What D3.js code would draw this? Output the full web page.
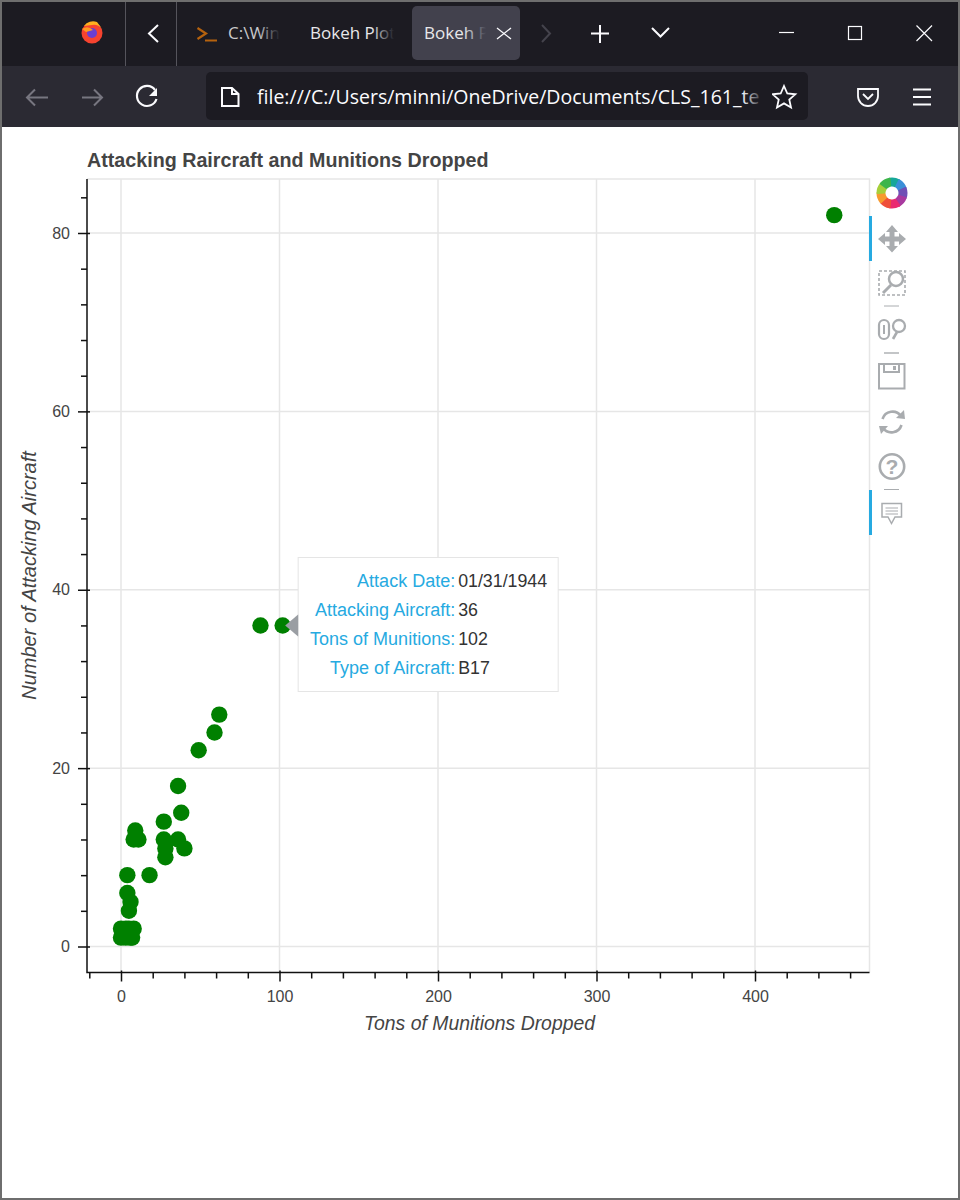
<!DOCTYPE html>
<html>
<head>
<meta charset="utf-8">
<style>
  html, body { margin: 0; padding: 0; background: #fff; }
  svg { display: block; }
  text { font-family: "Liberation Sans", Arial, sans-serif; }
  .ui { font-family: "Open Sans", "Noto Sans", sans-serif; }
</style>
</head>
<body>
<div class="canvas"></div>
<script src="https://cdn.jsdelivr.net/npm/d3@7"></script>
<script>
// tons dropped and attacking aircraft
const tons = [450, 88, 102, 62, 59, 49, 36, 38, 27, 9, 8, 11, 27, 36, 40, 28, 28, 18, 4, 4, 6, 5, 0, 0, 3, 3, 6, 5, 7, 8];
const aircraft = [82, 36, 36, 26, 24, 22, 18, 15, 14, 13, 12, 12, 12, 12, 11, 11, 10, 8, 8, 6, 5, 4, 1, 2, 1, 2, 1, 2, 1, 2];

const xTicks = [0, 100, 200, 300, 400];
const yTicks = [0, 20, 40, 60, 80];
const xMinor = d3.range(-20, 461, 20).filter(d => d % 100 !== 0);
const yMinor = d3.range(0, 85, 4).filter(d => d % 20 !== 0);

const tipLabels = ['Attack Date:', 'Attacking Aircraft:', 'Tons of Munitions:', 'Type of Aircraft:'];
const tipValues = ['01/31/1944', '36', '102', 'B17'];

const svg = d3.select('.canvas')
    .append('svg')
    .attr('width', 960)
    .attr('height', 1200);

const plot = {left: 87, right: 869.5, top: 179, bottom: 972.5};

// scales, zero and the top tick pinned to where they sit in the picture
const x = d3.scaleLinear().domain([0, 400]).range([121, 755]);
const y = d3.scaleLinear().domain([0, 80]).range([946.5, 233]);

// ---- browser window ----
const chrome = svg.append('g');
chrome.append('rect').attr('width', 960).attr('height', 66).attr('fill', '#1c1b22');
chrome.append('rect').attr('y', 66).attr('width', 960).attr('height', 61).attr('fill', '#2b2a33');
chrome.append('rect').attr('x', 206).attr('y', 72).attr('width', 602).attr('height', 48).attr('rx', 5).attr('fill', '#1c1b22');
chrome.append('rect').attr('x', 412).attr('y', 6).attr('width', 108).attr('height', 54).attr('rx', 5).attr('fill', '#42414d');

const line = (d, stroke, w) => chrome.append('path').attr('d', d).attr('fill', 'none')
    .attr('stroke', stroke).attr('stroke-width', w || 1.8);

// separators
line('M125.5 2V66M176.5 2V66', '#55545c', 1);
// firefox logo
chrome.append('circle').attr('cx', 92).attr('cy', 33).attr('r', 10.5).attr('fill', '#f6432f');
chrome.append('path').attr('d', 'M84 26A11 11 0 0 1 97 22L103 30A10 10 0 0 0 92 25Z').attr('fill', '#ffb01f');
chrome.append('circle').attr('cx', 92).attr('cy', 33).attr('r', 5).attr('fill', '#6a3fd0');
chrome.append('path').attr('d', 'M82 29Q88 25 93 30L86 32Z').attr('fill', '#ff9a1f');
// tab arrows
line('M158 25L149 33.5L158 42', '#fbfbfe', 2);
line('M542 25L550 33.5L542 42', '#44434c', 2);
// terminal tab icon
line('M197.5 28L206 33.5L197.5 39', '#b5620e', 2.2);
line('M205 40.5H217', '#b5620e', 2);
// new tab, list, window buttons
line('M600 25V43M591 33.5H609', '#fbfbfe', 2);
line('M652 28L660.5 36.5L669 28', '#fbfbfe', 2);
line('M779 32.5H794', '#fbfbfe', 1.2);
chrome.append('rect').attr('x', 848.5).attr('y', 26.5).attr('width', 13).attr('height', 13).attr('fill', 'none').attr('stroke', '#fbfbfe').attr('stroke-width', 1.2);
line('M916.5 25.5L932 41M932 25.5L916.5 41', '#fbfbfe', 1.2);
// nav buttons
line('M27 97.5H48M35 89.5L27 97.5L35 105.5', '#777680', 2);
line('M82 97.5H102M94 89.5L102 97.5L94 105.5', '#777680', 2);
line('M155 90A10 10 0 1 0 156.5 99', '#fbfbfe', 2.2);
chrome.append('path').attr('d', 'M157 88V96H149Z').attr('fill', '#fbfbfe');
// page icon, star, pocket, menu
line('M222 88H232L238.5 94V106H222ZM232 88V94H238.5', '#fbfbfe', 2);
line('M784 86L787.3 93.5L795.3 94.3L789.3 99.6L791 107.5L784 103.4L777 107.5L778.7 99.6L772.7 94.3L780.7 93.5Z', '#fbfbfe', 1.8);
line('M858 89H878V96A10 10 0 0 1 858 96ZM863 94L868 99L873 94', '#fbfbfe', 1.8);
line('M913 89.5H931M913 97H931M913 104.5H931', '#fbfbfe', 1.8);

const tabText = (tx, ty, s, fill) => chrome.append('text').attr('class', 'ui').attr('x', tx).attr('y', ty)
    .attr('font-size', 17).attr('fill', fill || '#fbfbfe').text(s);
tabText(228, 39, 'C:\\Win', '#c9c9cc');
tabText(310, 39, 'Bokeh Plot', '#e8e8ea');
tabText(424, 39, 'Bokeh P', '#e8e8ea');
tabText(257, 104, 'file:///C:/Users/minni/OneDrive/Documents/CLS_161_te').attr('font-size', 19.5);

// fades over the cut off ends of the tab titles and the address
const defs = svg.append('defs');
const fade = (id, from, to) => {
    const g = defs.append('linearGradient').attr('id', id);
    g.append('stop').attr('offset', 0).attr('stop-color', from).attr('stop-opacity', 0);
    g.append('stop').attr('offset', 1).attr('stop-color', to);
};
fade('fadeDark', '#1c1b22', '#1c1b22');
fade('fadeTab', '#42414d', '#42414d');
chrome.append('rect').attr('x', 258).attr('y', 20).attr('width', 22).attr('height', 28).attr('fill', 'url(#fadeDark)');
chrome.append('rect').attr('x', 280).attr('y', 20).attr('width', 20).attr('height', 28).attr('fill', '#1c1b22');
chrome.append('rect').attr('x', 372).attr('y', 20).attr('width', 22).attr('height', 28).attr('fill', 'url(#fadeDark)');
chrome.append('rect').attr('x', 394).attr('y', 20).attr('width', 18).attr('height', 28).attr('fill', '#1c1b22');
chrome.append('rect').attr('x', 464).attr('y', 20).attr('width', 22).attr('height', 28).attr('fill', 'url(#fadeTab)');
chrome.append('rect').attr('x', 486).attr('y', 20).attr('width', 8).attr('height', 28).attr('fill', '#42414d');
chrome.append('rect').attr('x', 742).attr('y', 84).attr('width', 22).attr('height', 30).attr('fill', 'url(#fadeDark)');
chrome.append('rect').attr('x', 764).attr('y', 84).attr('width', 8).attr('height', 30).attr('fill', '#1c1b22');
// tab close cross sits on top of the fade
line('M497 28L511 39M511 28L497 39', '#fbfbfe', 1.3);

// ---- plot ----
const grid = svg.append('g').attr('stroke', '#e6e6e6').attr('stroke-width', 1.5);
grid.selectAll('.vgrid').data(xTicks).enter().append('line')
    .attr('x1', d => x(d)).attr('x2', d => x(d)).attr('y1', plot.top).attr('y2', plot.bottom);
grid.selectAll('.hgrid').data(yTicks).enter().append('line')
    .attr('x1', plot.left).attr('x2', plot.right).attr('y1', d => y(d)).attr('y2', d => y(d));

// plot frame, top and right only; the axes close the other two sides
svg.append('path')
    .attr('d', `M${plot.left} ${plot.top}H${plot.right}V${plot.bottom}`)
    .attr('fill', 'none').attr('stroke', '#e6e6e6').attr('stroke-width', 1.5);

svg.append('g').selectAll('circle')
    .data(tons)
    .enter().append('circle')
    .attr('cx', d => x(d))
    .attr('cy', (d, i) => y(aircraft[i]))
    .attr('r', 8.2)
    .attr('fill', 'green');

// axes: minor first, then major, both with the library's tick marks
const styleAxis = g => {
    g.selectAll('.domain').remove();
    g.selectAll('line').attr('stroke', '#111').attr('stroke-width', 1.5);
    g.selectAll('text').attr('font-size', 16).attr('fill', '#444')
        .style('font-family', '"Liberation Sans", Arial, sans-serif');
};

const xAxisG = svg.append('g').attr('transform', `translate(0,${plot.bottom})`);
xAxisG.append('g').call(d3.axisBottom(x).tickValues(xMinor).tickSize(6).tickFormat('')).call(styleAxis);
const xMajor = xAxisG.append('g').call(d3.axisBottom(x).tickValues(xTicks).tickSize(9).tickPadding(9)).call(styleAxis);
xMajor.selectAll('.tick line').attr('y1', -2);

const yAxisG = svg.append('g').attr('transform', `translate(${plot.left},0)`);
yAxisG.append('g').call(d3.axisLeft(y).tickValues(yMinor).tickSize(6).tickFormat('')).call(styleAxis);
const yMajor = yAxisG.append('g').call(d3.axisLeft(y).tickValues(yTicks).tickSize(9).tickPadding(8)).call(styleAxis);
yMajor.selectAll('.tick line').attr('x1', 3);

svg.append('path')
    .attr('d', `M${plot.left} ${plot.top}V${plot.bottom}H${plot.right}`)
    .attr('fill', 'none').attr('stroke', '#111').attr('stroke-width', 1.5);

// titles
svg.append('text').attr('x', 87).attr('y', 166.5)
    .attr('font-size', 19.7).attr('font-weight', 'bold').attr('fill', '#444')
    .text('Attacking Raircraft and Munitions Dropped');
svg.append('text').attr('x', 479.5).attr('y', 1030)
    .attr('text-anchor', 'middle').attr('font-size', 19.4).attr('font-style', 'italic').attr('fill', '#444')
    .text('Tons of Munitions Dropped');
svg.append('text').attr('transform', 'translate(36,575.5) rotate(-90)')
    .attr('text-anchor', 'middle').attr('font-size', 20).attr('font-style', 'italic').attr('fill', '#444')
    .text('Number of Attacking Aircraft');

// ---- hover tooltip on the 102 ton point ----
const tipX = x(102) + 15.5;
const tipY = y(36);
const tip = svg.append('g');
tip.append('rect').attr('x', tipX).attr('y', 557.5).attr('width', 260).attr('height', 134)
    .attr('fill', '#fff').attr('stroke', '#e5e5e5').attr('stroke-width', 1);
tip.append('path')
    .attr('d', `M${tipX} ${tipY - 11}L${tipX - 13} ${tipY}L${tipX} ${tipY + 11}Z`)
    .attr('fill', '#9a9ea3');
tip.selectAll('.lbl').data(tipLabels).enter().append('text')
    .attr('x', tipX + 157).attr('y', (d, i) => 586.5 + i * 29)
    .attr('text-anchor', 'end').attr('font-size', 18).attr('fill', '#26aae1').text(d => d);
tip.selectAll('.val').data(tipValues).enter().append('text')
    .attr('x', tipX + 160).attr('y', (d, i) => 586.5 + i * 29)
    .attr('font-size', 17.8).attr('fill', '#333').text(d => d);

// ---- bokeh toolbar ----
const tb = svg.append('g');
const petals = ['#16a79a', '#3a8fd8', '#6f4fb5', '#a8399f', '#ea2a70', '#ef4f3a', '#f79a2e', '#a5cf3a', '#3cb54a'];
const petalArc = d3.arc().innerRadius(6.5).outerRadius(15.5).startAngle(-0.42).endAngle(0.42).cornerRadius(1);
tb.selectAll('.petal').data(petals).enter().append('path')
    .attr('d', petalArc())
    .attr('transform', (d, i) => `translate(892,193) rotate(${10 + i * 40})`)
    .attr('fill', d => d);

tb.append('rect').attr('x', 869).attr('y', 216).attr('width', 3).attr('height', 45).attr('fill', '#26aae1');
tb.append('rect').attr('x', 869).attr('y', 490).attr('width', 3).attr('height', 45).attr('fill', '#26aae1');

const icon = (d, w, fill) => tb.append('path').attr('d', d)
    .attr('fill', fill ? '#a9acaf' : 'none').attr('stroke', fill ? 'none' : '#a9acaf')
    .attr('stroke-width', w || 2.5);
// pan
icon('M892 225L898 232H894.5V236.5H899V233L906 239L899 245V241.5H894.5V246H898L892 252.5L886 246H889.5V241.5H885V245L878 239L885 233V236.5H889.5V232H886Z', 0, true);
// box zoom
tb.append('rect').attr('x', 879).attr('y', 271).attr('width', 26).attr('height', 24)
    .attr('fill', 'none').attr('stroke', '#a9acaf').attr('stroke-width', 1.6).attr('stroke-dasharray', '3 2');
tb.append('circle').attr('cx', 896).attr('cy', 279).attr('r', 7).attr('fill', '#fff').attr('stroke', '#a9acaf').attr('stroke-width', 2.5);
icon('M891 285L883 293', 3);
// separators
icon('M884 306H899', 1);
icon('M884 353H899', 1.4);
icon('M884 489.5H899', 1);
// wheel zoom
tb.append('rect').attr('x', 879).attr('y', 320).attr('width', 10).attr('height', 19).attr('rx', 5)
    .attr('fill', 'none').attr('stroke', '#a9acaf').attr('stroke-width', 2.2);
icon('M884 325V334', 2);
tb.append('circle').attr('cx', 899).attr('cy', 326).attr('r', 6).attr('fill', 'none').attr('stroke', '#a9acaf').attr('stroke-width', 2.3);
icon('M897 332L893 339', 2.6);
// save
icon('M879 364H904.5V388.5H879ZM884 364V372H899V364', 2);
tb.append('rect').attr('x', 893).attr('y', 366).attr('width', 3).attr('height', 4).attr('fill', '#a9acaf');
// reset
icon('M882.5 419A10.5 10.5 0 0 1 901 416M901.5 425A10.5 10.5 0 0 1 883 428', 2.6);
tb.append('path').attr('d', 'M896 418L905 419L904 410ZM879 426L888 426L881 434Z').attr('fill', '#a9acaf');
// help
tb.append('circle').attr('cx', 892).attr('cy', 466.5).attr('r', 12.2).attr('fill', 'none').attr('stroke', '#a9acaf').attr('stroke-width', 2.6);
tb.append('text').attr('x', 892).attr('y', 474).attr('text-anchor', 'middle')
    .attr('font-size', 21).attr('font-weight', 'bold').attr('fill', '#a9acaf').text('?');
// hover
icon('M882 503.5H901.5V517H895L891.5 523.5L888 517H882Z', 1.5);
icon('M885.5 508H898M885.5 511H898M885.5 514H898', 1.2);

// window border goes on last
svg.append('rect').attr('x', 1).attr('y', 1).attr('width', 958).attr('height', 1198)
    .attr('fill', 'none').attr('stroke', '#6e6e6e').attr('stroke-width', 2);
</script>
</body>
</html>
